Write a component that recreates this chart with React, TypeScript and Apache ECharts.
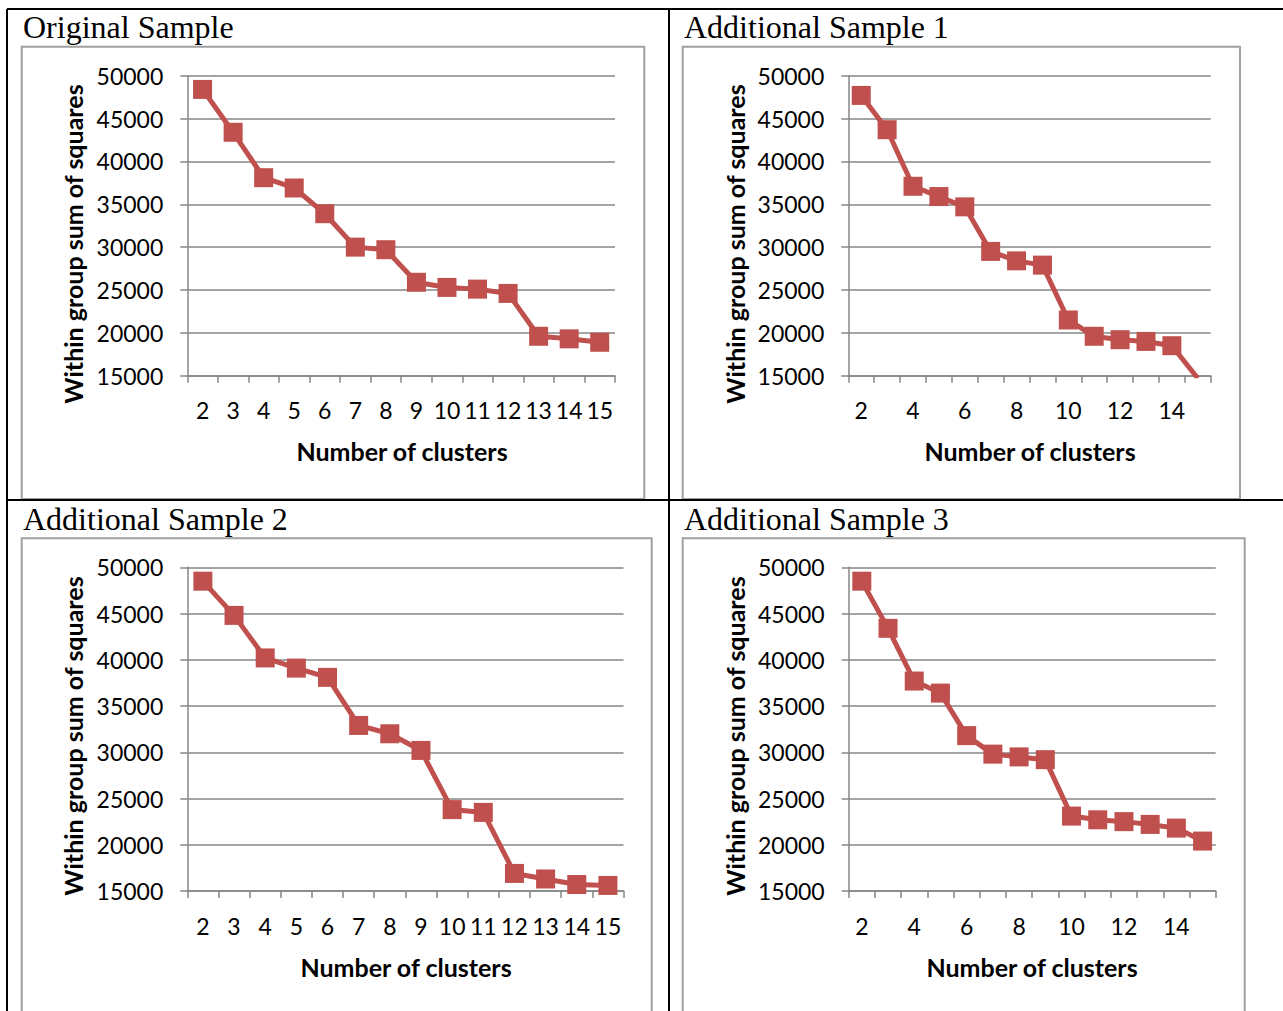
import React, { useEffect, useRef } from "react";
import * as echarts from "echarts";

// ---------- data ----------
const categories = ["2", "3", "4", "5", "6", "7", "8", "9", "10", "11", "12", "13", "14", "15"];

const originalSample = [48400, 43400, 38100, 36900, 33900, 30000, 29700, 25900, 25300, 25100, 24600, 19600, 19300, 18900];
const additionalSample1 = [47700, 43700, 37100, 35900, 34700, 29500, 28400, 27900, 21500, 19600, 19200, 19000, 18500, 14700];
const additionalSample2 = [48500, 44800, 40200, 39100, 38100, 32900, 32000, 30200, 23800, 23500, 16900, 16300, 15700, 15600];
const additionalSample3 = [48500, 43400, 37700, 36400, 31800, 29800, 29500, 29200, 23100, 22700, 22500, 22200, 21800, 20400];

const titles = ["Original Sample", "Additional Sample 1", "Additional Sample 2", "Additional Sample 3"];
const seriesData = [originalSample, additionalSample1, additionalSample2, additionalSample3];
const yMin = 15000;
const yMax = 50000;
const yStep = 5000;
const xName = "Number of clusters";
const yName = "Within group sum of squares";

// ---------- layout / style ----------
const RED = "#C0504D";
const GRIDC = "#868686";
const BOXC = "#a0a0a0";
const LABEL_FONT = "Lato";

const layout = [
  { left: 187.3, top: 75.7, width: 427.7, height: 300, labelInterval: 0, titleX: 23, titleY: 27, box: [21.7, 46.7, 622.6, 452.3], xNamePos: [402, 451], yNamePos: [73, 244] },
  { left: 848.3, top: 75.7, width: 362.4, height: 300, labelInterval: 1, titleX: 684, titleY: 27, box: [682.7, 46.7, 557.3, 452.3], xNamePos: [1030, 451], yNamePos: [735, 244] },
  { left: 187.3, top: 567.3, width: 436.2, height: 323.7, labelInterval: 0, titleX: 23, titleY: 519, box: [21.7, 538.3, 630, 500], xNamePos: [406, 967], yNamePos: [73, 736] },
  { left: 848.7, top: 567.3, width: 367, height: 323.7, labelInterval: 1, titleX: 684, titleY: 519, box: [682.7, 538.3, 562, 500], xNamePos: [1032, 967], yNamePos: [735, 736] },
];

export default function App() {
  const ref = useRef<HTMLDivElement>(null);

  useEffect(() => {
    if (!ref.current) return;
    const chart = echarts.init(ref.current, undefined, { renderer: "svg" });

    const axisLineStyle = { color: GRIDC, width: 1.5 };

    const graphic: any[] = [];
    layout.forEach((p, i) => {
      graphic.push({
        type: "rect",
        z: 1,
        shape: { x: p.box[0], y: p.box[1], width: p.box[2], height: p.box[3] },
        style: { fill: "transparent", stroke: BOXC, lineWidth: 2 },
      });
      graphic.push({
        type: "text",
        z: 5,
        x: p.titleX,
        y: p.titleY,
        style: {
          text: titles[i],
          fontFamily: "Liberation Serif",
          fontSize: 32,
          fill: "#000",
          align: "left",
          verticalAlign: "middle",
        },
      });
      graphic.push({
        type: "text",
        z: 5,
        x: p.xNamePos[0],
        y: p.xNamePos[1],
        style: {
          text: xName,
          fontFamily: LABEL_FONT,
          fontWeight: "bold",
          fontSize: 25,
          fill: "#000",
          align: "center",
          verticalAlign: "middle",
        },
      });
      graphic.push({
        type: "text",
        z: 5,
        x: p.yNamePos[0],
        y: p.yNamePos[1],
        rotation: Math.PI / 2,
        style: {
          text: yName,
          fontFamily: LABEL_FONT,
          fontWeight: "bold",
          fontSize: 25,
          fill: "#000",
          align: "center",
          verticalAlign: "middle",
        },
      });
    });

    // table borders
    const tableLines = [
      [7, 9, 1283, 9],
      [7, 9, 7, 1011],
      [669, 9, 669, 1011],
      [7, 500, 1283, 500],
    ];
    tableLines.forEach((l) => {
      graphic.push({
        type: "line",
        z: 10,
        shape: { x1: l[0], y1: l[1], x2: l[2], y2: l[3] },
        style: { stroke: "#000", lineWidth: 2 },
      });
    });

    const option: any = {
      animation: false,
      backgroundColor: "#fff",
      graphic,
      grid: layout.map((p) => ({
        left: p.left,
        top: p.top,
        width: p.width,
        height: p.height,
        containLabel: false,
      })),
      xAxis: layout.map((p, i) => ({
        type: "category",
        gridIndex: i,
        data: categories,
        boundaryGap: true,
        axisLine: { show: true, lineStyle: axisLineStyle },
        axisTick: { show: true, interval: 0, length: 7, lineStyle: axisLineStyle },
        axisLabel: {
          interval: p.labelInterval,
          margin: 23,
          fontFamily: LABEL_FONT,
          fontSize: 23,
          color: "#000",
        },
        splitLine: { show: false },
      })),
      yAxis: layout.map((p, i) => ({
        type: "value",
        gridIndex: i,
        min: yMin,
        max: yMax,
        interval: yStep,
        axisLine: { show: true, lineStyle: axisLineStyle },
        axisTick: { show: true, length: 7, lineStyle: axisLineStyle },
        axisLabel: {
          margin: 24,
          fontFamily: LABEL_FONT,
          fontSize: 23,
          color: "#000",
          formatter: (v: number) => String(v),
        },
        splitLine: { show: true, lineStyle: axisLineStyle },
      })),
      series: seriesData.map((d, i) => ({
        type: "line",
        name: titles[i],
        xAxisIndex: i,
        yAxisIndex: i,
        data: d,
        clip: true,
        symbol: "rect",
        symbolSize: 19,
        showAllSymbol: true,
        lineStyle: { color: RED, width: 5 },
        itemStyle: { color: RED },
        z: 3,
      })),
    };

    chart.setOption(option);
    return () => chart.dispose();
  }, []);

  return (
    <div
      ref={ref}
      style={{ position: "absolute", left: 0, top: 0, width: 1283, height: 1011, background: "#fff" }}
    />
  );
}
